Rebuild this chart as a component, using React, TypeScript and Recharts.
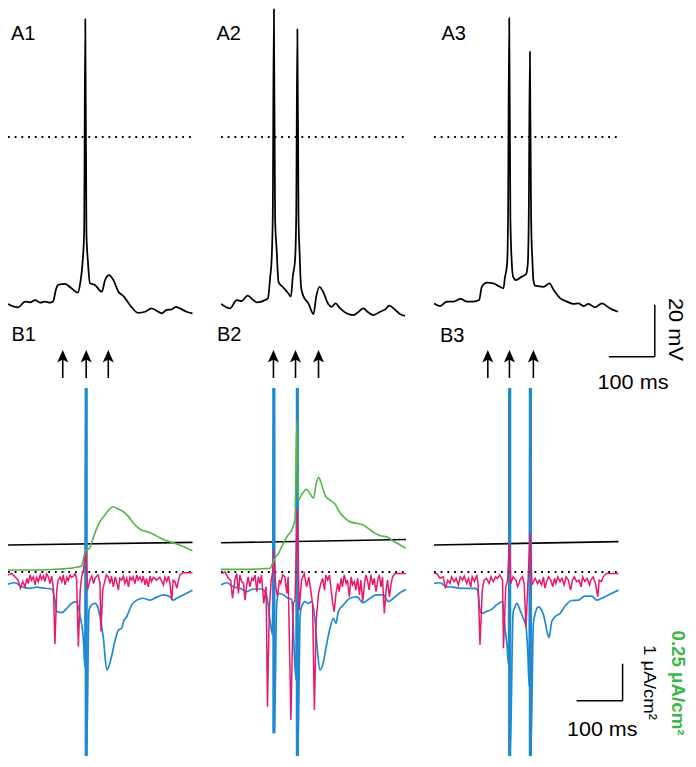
import React from 'react';
import { ComposedChart, Line, XAxis, YAxis, ReferenceLine, Scatter } from 'recharts';

// ---------- DATA (time in ms, voltage in mV, current in µA/cm²) ----------
const A1_VM = [[0,-64.2],[22,-65.5],[37,-63.3],[48,-63.6],[59,-62.7],[70,-63.7],[80,-63.3],[91,-63.7],[98,-63.3],[104,-58.8],[109,-56.9],[124,-56.5],[138,-58.2],[152,-59.9],[157,-56.2],[162,-48.5],[165.5,-36.9],[168,45.3],[170.5,-36.9],[174,-48.5],[178,-56.2],[189,-56.9],[204,-59.5],[211,-55],[220,-53.1],[229,-55],[240,-59.5],[251,-61.2],[265,-64.6],[283,-67.6],[298,-67.2],[312,-65.9],[323,-66.8],[334,-67.8],[345,-66.5],[356,-66.3],[365,-65.3],[378,-66.3],[388,-67.2],[401,-67.8]];
const A2_VM = [[0,-64.2],[20,-65.9],[34,-62.7],[45,-63.1],[58,-61],[70,-62.7],[78,-63.6],[88,-63.3],[96,-62.7],[102,-62],[107,-53.7],[110,-47.3],[112.5,-30.6],[115,49.1],[117.5,-30.6],[121,-43.5],[125,-55.7],[135,-57.8],[146,-60.1],[152,-61.4],[156,-53.7],[161,-47.3],[163.5,-30.6],[166,41.4],[168.5,-30.6],[171,-45],[174,-57.6],[179,-61.2],[190,-64],[201,-68.1],[207,-61.4],[214,-57.6],[222,-59.5],[233,-64.2],[241,-65.3],[249,-64],[259,-65.9],[273,-67.8],[288,-68.5],[298,-67.4],[309,-65.9],[320,-67.4],[331,-68.5],[346,-67.2],[357,-66.3],[366,-64.9],[375,-65.9],[389,-68.1],[400,-68.8]];
const A3_VM = [[0,-64],[13,-65],[28,-63.3],[42,-63.3],[58,-62.3],[71,-63.3],[85,-63.3],[98,-62.7],[104,-57.6],[115,-56],[129,-56.3],[143,-57.6],[151,-58.2],[154,-54.3],[159,-48.6],[161,-30.7],[163.5,45.7],[166,-30.7],[169,-48],[172,-53.7],[178,-55],[191,-53.7],[200,-52.8],[204,-48.6],[206,-30.7],[208.5,32.8],[211,-30.7],[214,-48],[216,-55],[220,-57.2],[238,-57.6],[251,-56.3],[260,-58.8],[274,-62],[289,-63.3],[303,-64.2],[314,-64],[325,-65],[336,-64.2],[350,-65.5],[365,-64],[379,-65.5],[389,-66.5],[400,-67.2]];

const B1_BLACK = [[0,0.73],[401,0.80]];
const B2_BLACK = [[0,0.79],[402,0.88]];
const B3_BLACK = [[0,0.73],[401,0.82]];

const B1_GREEN = [[0,0.014],[55,0.014],[113,0.02],[149,0.032],[160,0.041],[165,0.103],[170,0.149],[177,0.16],[185,0.228],[193,0.295],[200,0.34],[211,0.385],[222,0.43],[229,0.441],[240,0.424],[251,0.407],[262,0.374],[272,0.333],[287,0.289],[302,0.272],[316,0.255],[330,0.232],[345,0.211],[359,0.198],[378,0.176],[401,0.144]];
const B2_GREEN = [[0,0.018],[49,0.018],[107,0.025],[112,0.059],[117,0.092],[125,0.126],[132,0.171],[139,0.216],[146,0.25],[154,0.284],[161,0.363],[165,1.027],[168,0.486],[175,0.52],[186,0.559],[193,0.532],[201,0.498],[207,0.599],[212,0.64],[217,0.61],[226,0.52],[237,0.486],[248,0.459],[255,0.419],[266,0.374],[280,0.34],[295,0.329],[309,0.318],[320,0.295],[335,0.261],[349,0.243],[360,0.239],[371,0.216],[386,0.189],[402,0.16]];

const B1_BLUE = [[0,-0.33],[15,-0.29],[30,-0.40],[48,-0.44],[62,-0.41],[80,-0.44],[95,-0.46],[102,-0.76],[106,-1.07],[117,-1.10],[128,-0.98],[138,-0.85],[149,-0.80],[157,-1.21],[164,-1.84],[167,-2.56],[169,4.97],[171,-4.97],[176,-1.03],[182,-0.89],[189,-0.85],[196,-0.98],[200,-1.21],[207,-1.75],[215,-2.65],[225,-2.29],[233,-1.84],[240,-1.57],[247,-1.52],[251,-1.34],[258,-1.21],[269,-0.89],[280,-0.76],[294,-0.71],[309,-0.76],[323,-0.68],[338,-0.62],[352,-0.67],[359,-0.76],[367,-0.71],[381,-0.62],[401,-0.49]];
const B2_BLUE = [[0,-0.35],[12,-0.29],[27,-0.40],[41,-0.44],[56,-0.53],[70,-0.46],[88,-0.46],[99,-0.62],[107,-1.34],[112,-1.70],[114,4.97],[116,-4.36],[121,-0.9],[125,-0.58],[136,-0.62],[146,-0.71],[154,-0.74],[157,-1.48],[163,-2.92],[165,4.97],[167,-4.97],[172,-1.2],[175,-0.94],[183,-0.80],[190,-0.85],[197,-0.80],[204,-1.25],[209,-2.02],[215,-2.65],[222,-2.47],[230,-1.93],[237,-1.52],[244,-1.25],[250,-1.39],[255,-1.07],[266,-0.89],[280,-0.71],[295,-0.67],[309,-0.83],[324,-0.71],[338,-0.62],[353,-0.62],[364,-0.80],[375,-0.71],[389,-0.56],[402,-0.47]];
const B3_BLUE = [[0,-0.31],[13,-0.29],[28,-0.40],[42,-0.41],[57,-0.44],[71,-0.44],[89,-0.44],[95,-0.49],[100,-1.03],[104,-1.12],[114,-1.07],[125,-1.01],[136,-0.89],[149,-0.80],[154,-1.48],[159,-2.02],[162,-2.51],[163.5,4.97],[165.5,-4.97],[172,-1.1],[175,-0.98],[180,-0.85],[187,-1.03],[194,-1.25],[200,-1.48],[204,-2.2],[207,-3.1],[208.5,4.97],[210.5,-4.97],[216,-1.4],[220,-1.12],[227,-0.94],[234,-1.03],[240,-1.25],[245,-1.57],[250,-1.77],[256,-1.34],[263,-1.21],[274,-1.12],[285,-0.92],[299,-0.77],[314,-0.76],[328,-0.65],[343,-0.65],[354,-0.76],[364,-0.71],[379,-0.62],[401,-0.49]];

// spike bars: [time, top, bottom]
const B1_BARS = [[170, 4.97, -4.97]];
const B2_BARS = [[115, 4.97, -4.36], [166, 4.97, -4.97]];
const B3_BARS = [[164.5, 4.97, -4.97], [209.5, 4.97, -4.97]];

const B1_RED = [[0,-0.08],[8,-0.04],[15,-0.13],[22,-0.22],[27,-0.44],[32,-0.26],[37,-0.40],[41,-0.17],[44,-0.31],[48,-0.08],[51,-0.22],[55,-0.13],[59,-0.35],[62,-0.14],[66,-0.26],[70,-0.08],[73,-0.20],[77,-0.11],[80,-0.26],[84,-0.05],[88,-0.14],[91,-0.31],[95,-0.11],[99,-0.49],[102,-1.95],[106,-0.49],[109,-0.22],[113,-0.14],[117,-0.26],[120,-0.08],[124,-0.35],[128,-0.14],[131,-0.23],[135,-0.08],[138,-0.14],[142,-0.11],[146,-0.04],[149,-0.17],[153,-2.02],[157,-0.49],[160,-0.13],[164,0.05],[169,0.6],[171,0.05],[173,-0.49],[178,-0.22],[182,-0.11],[186,-0.31],[189,-0.17],[193,-0.11],[196,-0.08],[200,-0.31],[202,-1.61],[206,-0.49],[211,-0.22],[214,-0.08],[218,-0.14],[222,-0.31],[225,-0.11],[229,-0.40],[233,-0.13],[236,-0.26],[240,-0.49],[243,-0.17],[247,-0.22],[251,-0.11],[254,-0.31],[258,-0.17],[262,-0.40],[265,-0.14],[269,-0.22],[272,-0.13],[276,-0.31],[280,-0.08],[283,-0.22],[287,-0.14],[291,-0.26],[294,-0.11],[298,-0.35],[301,-0.17],[305,-0.40],[309,-0.11],[312,-0.26],[316,-0.14],[323,-0.22],[330,-0.14],[338,-0.35],[341,-0.14],[345,-0.26],[349,-0.11],[352,-0.31],[356,-0.76],[359,-0.22],[363,-0.26],[367,-0.44],[370,-0.26],[374,-0.08],[381,-0.02],[388,-0.02],[401,-0.02]];
const B2_RED = [[1,-0.04],[9,0],[16,-0.17],[21,-0.22],[25,-0.71],[30,-0.22],[34,-0.04],[38,-0.58],[41,-0.08],[45,-0.26],[49,-0.31],[52,-0.76],[56,-0.35],[59,-0.13],[63,-0.40],[67,-0.17],[70,-0.22],[74,-0.08],[78,-0.53],[81,-0.13],[85,-0.31],[88,-0.08],[93,-0.85],[98,-0.40],[101,-3.64],[105,-1.03],[109,-0.22],[112,-0.04],[115,0.59],[119,-0.40],[123,-0.67],[127,-0.22],[130,-0.31],[134,-0.08],[139,-0.13],[143,-0.58],[146,-0.13],[152,-4.0],[157,-0.85],[161,-0.76],[166,1.7],[170,-1.03],[175,-0.22],[181,-0.04],[186,-0.40],[191,-0.13],[196,-0.58],[199,-0.85],[203,-3.73],[207,-1.30],[212,-0.58],[217,-0.31],[221,-0.17],[225,-0.49],[228,-0.08],[232,-0.22],[236,-0.08],[239,-0.44],[243,-0.85],[246,-1.07],[250,-0.58],[254,-0.31],[257,-0.53],[261,-0.17],[264,-0.40],[268,-0.08],[272,-0.31],[275,-0.22],[279,-0.67],[283,-0.13],[286,-0.35],[290,-0.26],[293,-0.49],[297,-0.17],[301,-0.62],[304,-0.22],[308,-0.80],[312,-0.31],[315,-0.08],[319,-0.26],[322,-0.49],[326,-0.08],[330,-0.35],[333,-0.17],[337,-0.53],[341,-0.22],[344,-0.08],[348,-0.40],[351,-0.13],[355,-1.12],[359,-0.49],[362,-0.22],[366,-0.67],[370,-0.31],[373,-0.13],[378,-0.04],[389,-0.04],[402,-0.04]];
const B3_RED = [[0,-0.04],[6,-0.04],[13,-0.17],[20,-0.13],[25,-0.44],[30,-0.22],[35,-0.31],[38,-0.13],[44,-0.26],[48,-0.17],[53,-0.35],[57,-0.13],[62,-0.22],[66,-0.11],[71,-0.31],[75,-0.17],[80,-0.40],[83,-0.13],[88,-0.26],[93,-0.08],[96,-0.35],[100,-1.97],[105,-0.49],[109,-0.22],[114,-0.17],[120,-0.31],[124,-0.13],[129,-0.26],[134,-0.13],[138,-0.17],[143,-0.08],[149,-0.22],[151,-2.06],[156,-0.40],[160,-0.22],[164,0.78],[167,-0.31],[172,-0.13],[178,-0.22],[182,-0.40],[187,-0.22],[192,-0.13],[196,-0.31],[200,-1.48],[209,1.05],[213,-0.35],[220,-0.17],[225,-0.31],[229,-0.22],[234,-0.35],[238,-0.13],[241,-0.44],[245,-0.26],[249,-0.13],[254,-0.22],[258,-0.40],[262,-0.17],[265,-0.31],[269,-0.13],[274,-0.26],[278,-0.17],[283,-0.35],[287,-0.13],[292,-0.22],[297,-0.49],[301,-0.22],[305,-0.13],[310,-0.26],[315,-0.22],[320,-0.40],[323,-0.13],[328,-0.26],[333,-0.17],[338,-0.35],[341,-0.22],[346,-0.13],[351,-0.31],[356,-0.67],[359,-0.22],[364,-0.26],[368,-0.13],[375,-0.04],[386,-0.04],[401,-0.04]];

const B1_ARROWS = [119, 170, 218];
const B2_ARROWS = [114, 162, 212];
const B3_ARROWS = [117, 164, 216];
const ARROW_TIP = 6.0; // µA/cm² level of arrow tips (above traces)

const A_LABELS = ['A1', 'A2', 'A3'];
const B_LABELS = ['B1', 'B2', 'B3'];

// ---------- layout / styles ----------
const PX_PER_MS = 0.46;
const A_ZERO_Y = 137;
const A_PX_PER_MV = 2.6;
const B_TOP = 345;
const B_HEIGHT = 415;
const B_ZERO_Y = 572;
const B_PX_PER_UA = 37;
const B_PX_PER_UA_GREEN = 148;
const BLUE = '#1f8ad2';
const RED = '#e8196b';
const GREEN = '#52b548';
const FONT = 'Liberation Sans, Arial, Helvetica, sans-serif';
const MARGIN = { top: 0, right: 0, bottom: 0, left: 0 };

const pts = (arr: number[][], key: string) => arr.map(([t, v]) => ({ t, [key]: v }));

function Arrow(props: any) {
  const { cx, cy } = props;
  if (cx == null || cy == null) return null;
  return (
    <g>
      <line x1={cx} y1={cy + 8} x2={cx} y2={cy + 28} stroke="#000" strokeWidth={1.6} />
      <path d={`M${cx},${cy} L${cx + 5.5},${cy + 12.5} L${cx},${cy + 9.5} L${cx - 5.5},${cy + 12.5} Z`} fill="#000" />
    </g>
  );
}

function APanel({ left, width, height, trace, scaleBar }: any) {
  const xMax = width / PX_PER_MS;
  const yTop = A_ZERO_Y / A_PX_PER_MV;
  const yBottom = (A_ZERO_Y - height) / A_PX_PER_MV;
  return (
    <div style={{ position: 'absolute', left, top: 0 }}>
      <ComposedChart width={width} height={height} margin={MARGIN}>
        <XAxis type="number" dataKey="t" domain={[0, xMax]} hide allowDataOverflow />
        <YAxis type="number" domain={[yBottom, yTop]} hide allowDataOverflow />
        <ReferenceLine segment={[{ x: 0, y: 0 }, { x: 400, y: 0 }]} stroke="#000" strokeWidth={1.8} strokeDasharray="1.8 4.9" />
        <Line data={pts(trace, 'v')} dataKey="v" type="monotone" stroke="#000" strokeWidth={1.75} dot={false} isAnimationActive={false} />
        {scaleBar && (
          <ReferenceLine segment={[{ x: 380, y: -84.5 }, { x: 480, y: -84.5 }]} stroke="#000" strokeWidth={1.5} ifOverflow="visible" />
        )}
        {scaleBar && (
          <ReferenceLine segment={[{ x: 480, y: -84.5 }, { x: 480, y: -64.5 }]} stroke="#000" strokeWidth={1.5} ifOverflow="visible" />
        )}
      </ComposedChart>
    </div>
  );
}

function BPanel({ left, width, black, green, blue, bars, red, arrows, scaleBar }: any) {
  const xMax = width / PX_PER_MS;
  const iTop = (B_ZERO_Y - B_TOP) / B_PX_PER_UA;
  const iBottom = (B_ZERO_Y - B_TOP - B_HEIGHT) / B_PX_PER_UA;
  const gTop = (B_ZERO_Y - B_TOP) / B_PX_PER_UA_GREEN;
  const gBottom = (B_ZERO_Y - B_TOP - B_HEIGHT) / B_PX_PER_UA_GREEN;
  return (
    <div style={{ position: 'absolute', left, top: B_TOP }}>
      <ComposedChart width={width} height={B_HEIGHT} margin={MARGIN}>
        <XAxis type="number" dataKey="t" domain={[0, xMax]} hide allowDataOverflow />
        <YAxis yAxisId="i" type="number" domain={[iBottom, iTop]} hide allowDataOverflow />
        <YAxis yAxisId="g" type="number" domain={[gBottom, gTop]} hide allowDataOverflow />
        <Line yAxisId="i" data={pts(black, 'i')} dataKey="i" type="linear" stroke="#000" strokeWidth={1.6} dot={false} isAnimationActive={false} />
        <Line yAxisId="i" data={pts(blue, 'i')} dataKey="i" type="monotone" stroke={BLUE} strokeWidth={1.7} dot={false} isAnimationActive={false} />
        {bars.map(([t, hi, lo]: number[], k: number) => (
          <Line key={'bar' + k} yAxisId="i" data={[{ t, i: hi }, { t, i: lo }]} dataKey="i" type="linear" stroke={BLUE} strokeWidth={3.2} dot={false} isAnimationActive={false} />
        ))}
        <ReferenceLine yAxisId="i" segment={[{ x: 0, y: 0 }, { x: 400, y: 0 }]} stroke="#000" strokeWidth={1.8} strokeDasharray="1.8 4.9" />
        <Line yAxisId="i" data={pts(red, 'i')} dataKey="i" type="linear" stroke={RED} strokeWidth={1.5} dot={false} isAnimationActive={false} />
        {green && (
          <Line yAxisId="g" data={pts(green, 'g')} dataKey="g" type="monotone" stroke={GREEN} strokeWidth={1.6} dot={false} isAnimationActive={false} />
        )}
        <Scatter yAxisId="i" data={arrows.map((t: number) => ({ t, i: ARROW_TIP }))} dataKey="i" shape={Arrow} isAnimationActive={false} />
        {scaleBar && (
          <ReferenceLine yAxisId="i" segment={[{ x: 310, y: -3.48 }, { x: 410, y: -3.48 }]} stroke="#000" strokeWidth={1.5} ifOverflow="visible" />
        )}
        {scaleBar && (
          <ReferenceLine yAxisId="i" segment={[{ x: 410, y: -3.48 }, { x: 410, y: -2.48 }]} stroke="#000" strokeWidth={1.5} ifOverflow="visible" />
        )}
      </ComposedChart>
    </div>
  );
}

export default function App() {
  const labelStyle = { fontFamily: FONT, fontSize: 20, fill: '#000' } as any;
  return (
    <div style={{ position: 'absolute', left: 0, top: 0, width: 696, height: 767, background: '#fff' }}>
      <APanel left={8} width={200} height={330} trace={A1_VM} />
      <APanel left={221} width={200} height={330} trace={A2_VM} />
      <APanel left={434} width={262} height={400} trace={A3_VM} scaleBar />
      <BPanel left={8} width={200} black={B1_BLACK} green={B1_GREEN} blue={B1_BLUE} bars={B1_BARS} red={B1_RED} arrows={B1_ARROWS} />
      <BPanel left={221} width={200} black={B2_BLACK} green={B2_GREEN} blue={B2_BLUE} bars={B2_BARS} red={B2_RED} arrows={B2_ARROWS} />
      <BPanel left={434} width={262} black={B3_BLACK} blue={B3_BLUE} bars={B3_BARS} red={B3_RED} arrows={B3_ARROWS} scaleBar />
      <svg width={696} height={767} style={{ position: 'absolute', left: 0, top: 0, pointerEvents: 'none' }}>
        <text x={11} y={39.5} {...labelStyle}>{A_LABELS[0]}</text>
        <text x={216.5} y={39.5} {...labelStyle}>{A_LABELS[1]}</text>
        <text x={441.5} y={39.5} {...labelStyle}>{A_LABELS[2]}</text>
        <text x={11.5} y={341} {...labelStyle}>{B_LABELS[0]}</text>
        <text x={217} y={341} {...labelStyle}>{B_LABELS[1]}</text>
        <text x={440} y={342} {...labelStyle}>{B_LABELS[2]}</text>
        <text x={597.5} y={388.5} fontFamily={FONT} fontSize={20} textLength={71} lengthAdjust="spacingAndGlyphs">100 ms</text>
        <text transform="translate(669,298) rotate(90)" fontFamily={FONT} fontSize={20} textLength={63} lengthAdjust="spacingAndGlyphs">20 mV</text>
        <text x={567} y={735.5} fontFamily={FONT} fontSize={20} textLength={70.5} lengthAdjust="spacingAndGlyphs">100 ms</text>
        <text transform="translate(644,645) rotate(90)" fontFamily={FONT} fontSize={17} textLength={75} lengthAdjust="spacingAndGlyphs">1 μA/cm²</text>
        <text transform="translate(671.5,630.5) rotate(90)" fontFamily={FONT} fontSize={17.5} fontWeight="bold" fill="#3cb54a" textLength={105} lengthAdjust="spacingAndGlyphs">0.25 μA/cm²</text>
      </svg>
    </div>
  );
}
